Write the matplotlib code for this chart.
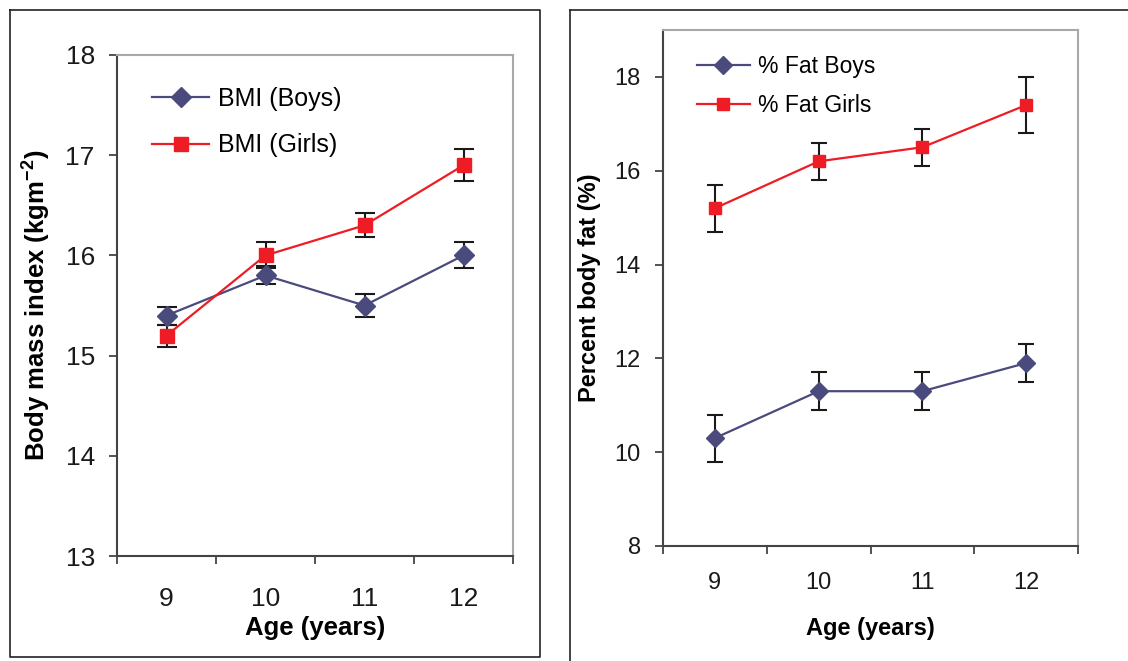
import matplotlib
matplotlib.use('Agg')
import matplotlib.pyplot as plt
from matplotlib.lines import Line2D

ages = ['9', '10', '11', '12']

bmi_boys = [15.4, 15.8, 15.5, 16.0]
bmi_boys_err = [0.09, 0.09, 0.11, 0.13]
bmi_girls = [15.2, 16.0, 16.3, 16.9]
bmi_girls_err = [0.11, 0.13, 0.12, 0.16]

fat_boys = [10.3, 11.3, 11.3, 11.9]
fat_boys_err = [0.5, 0.4, 0.4, 0.4]
fat_girls = [15.2, 16.2, 16.5, 17.4]
fat_girls_err = [0.5, 0.4, 0.4, 0.6]

boys_col = '#4b4a7c'
girls_col = '#ee1c25'

plt.rcParams['font.family'] = ['Liberation Sans', 'DejaVu Sans']


def draw_panel(ax, boys, boys_err, girls, girls_err, labels, fs, ms, cap):
	x = list(range(len(ages)))
	ax.errorbar(x, boys, yerr=boys_err, fmt='none', ecolor='#1a1a1a', elinewidth=1.5, capsize=cap, capthick=1.5, zorder=2)
	ax.errorbar(x, girls, yerr=girls_err, fmt='none', ecolor='#1a1a1a', elinewidth=1.5, capsize=cap, capthick=1.5, zorder=2)
	ax.plot(x, boys, color=boys_col, lw=1.6, marker='D', ms=ms, mec=boys_col, mfc=boys_col, label=labels[0], zorder=3)
	ax.plot(x, girls, color=girls_col, lw=1.6, marker='s', ms=ms, mec=girls_col, mfc=girls_col, label=labels[1], zorder=3)
	ax.set_xlim(-0.5, len(ages) - 0.5)
	ax.set_xticks([i - 0.5 for i in range(len(ages) + 1)])
	ax.set_xticklabels([])
	ax.set_xticks(x, minor=True)
	ax.set_xticklabels(ages, minor=True, fontsize=fs, color='#1a1a1a')
	ax.tick_params(axis='x', which='major', length=6, width=1.3, color='#444444', direction='out')
	ax.tick_params(axis='x', which='minor', length=0)
	ax.tick_params(axis='y', length=6, width=1.3, color='#444444', direction='out', labelsize=fs, labelcolor='#1a1a1a')
	for s in ['left', 'bottom']:
		ax.spines[s].set_color('#444444')
		ax.spines[s].set_linewidth(1.5)
	for s in ['top', 'right']:
		ax.spines[s].set_color('#a8a8a8')
		ax.spines[s].set_linewidth(1.5)


fig = plt.figure(figsize=(11.28, 6.61), dpi=100)

# left panel: BMI
ax1 = fig.add_axes([117/1128, 105/661, 396/1128, 501/661])
draw_panel(ax1, bmi_boys, bmi_boys_err, bmi_girls, bmi_girls_err, ['BMI (Boys)', 'BMI (Girls)'], 19, 10, 7)
ax1.set_ylim(13, 18)
ax1.set_yticks([13, 14, 15, 16, 17, 18])
ax1.tick_params(axis='y', pad=10)
ax1.tick_params(axis='x', which='minor', pad=22)
ax1.set_ylabel('Body mass index (kgm$^{\\mathregular{-2}}$)', fontsize=18.5, fontweight='bold', labelpad=10)
ax1.set_xlabel('Age (years)', fontsize=18.5, fontweight='bold', labelpad=4)
ax1.legend(loc='upper left', bbox_to_anchor=(0.088, 0.937), frameon=False, fontsize=18,
	handlelength=2.3, handletextpad=0.35, labelspacing=0.91, borderpad=0, borderaxespad=0)

# right panel: percent body fat
ax2 = fig.add_axes([663/1128, 115/661, 415/1128, 516/661])
draw_panel(ax2, fat_boys, fat_boys_err, fat_girls, fat_girls_err, ['% Fat Boys', '% Fat Girls'], 17, 9, 6)
ax2.set_ylim(8, 19)
ax2.set_yticks([8, 10, 12, 14, 16, 18])
ax2.tick_params(axis='y', pad=10)
ax2.tick_params(axis='x', which='minor', pad=18.5)
ax2.set_ylabel('Percent body fat (%)', fontsize=17, fontweight='bold', labelpad=10)
ax2.set_xlabel('Age (years)', fontsize=17, fontweight='bold', labelpad=17)
ax2.legend(loc='upper left', bbox_to_anchor=(0.082, 0.952), frameon=False, fontsize=16.5,
	handlelength=2.3, handletextpad=0.35, labelspacing=0.69, borderpad=0, borderaxespad=0)

# panel frames
W, H = 1128.0, 661.0
def fl(xs, ys):
	fig.add_artist(Line2D([v / W for v in xs], [1 - v / H for v in ys], color='#222222', lw=1.2))
fl([10, 540, 540, 10, 10], [10, 10, 657, 657, 10])
fl([570, 570], [661, 10])
fl([570, 1128], [10, 10])

fig.savefig('out.png', dpi=100)
